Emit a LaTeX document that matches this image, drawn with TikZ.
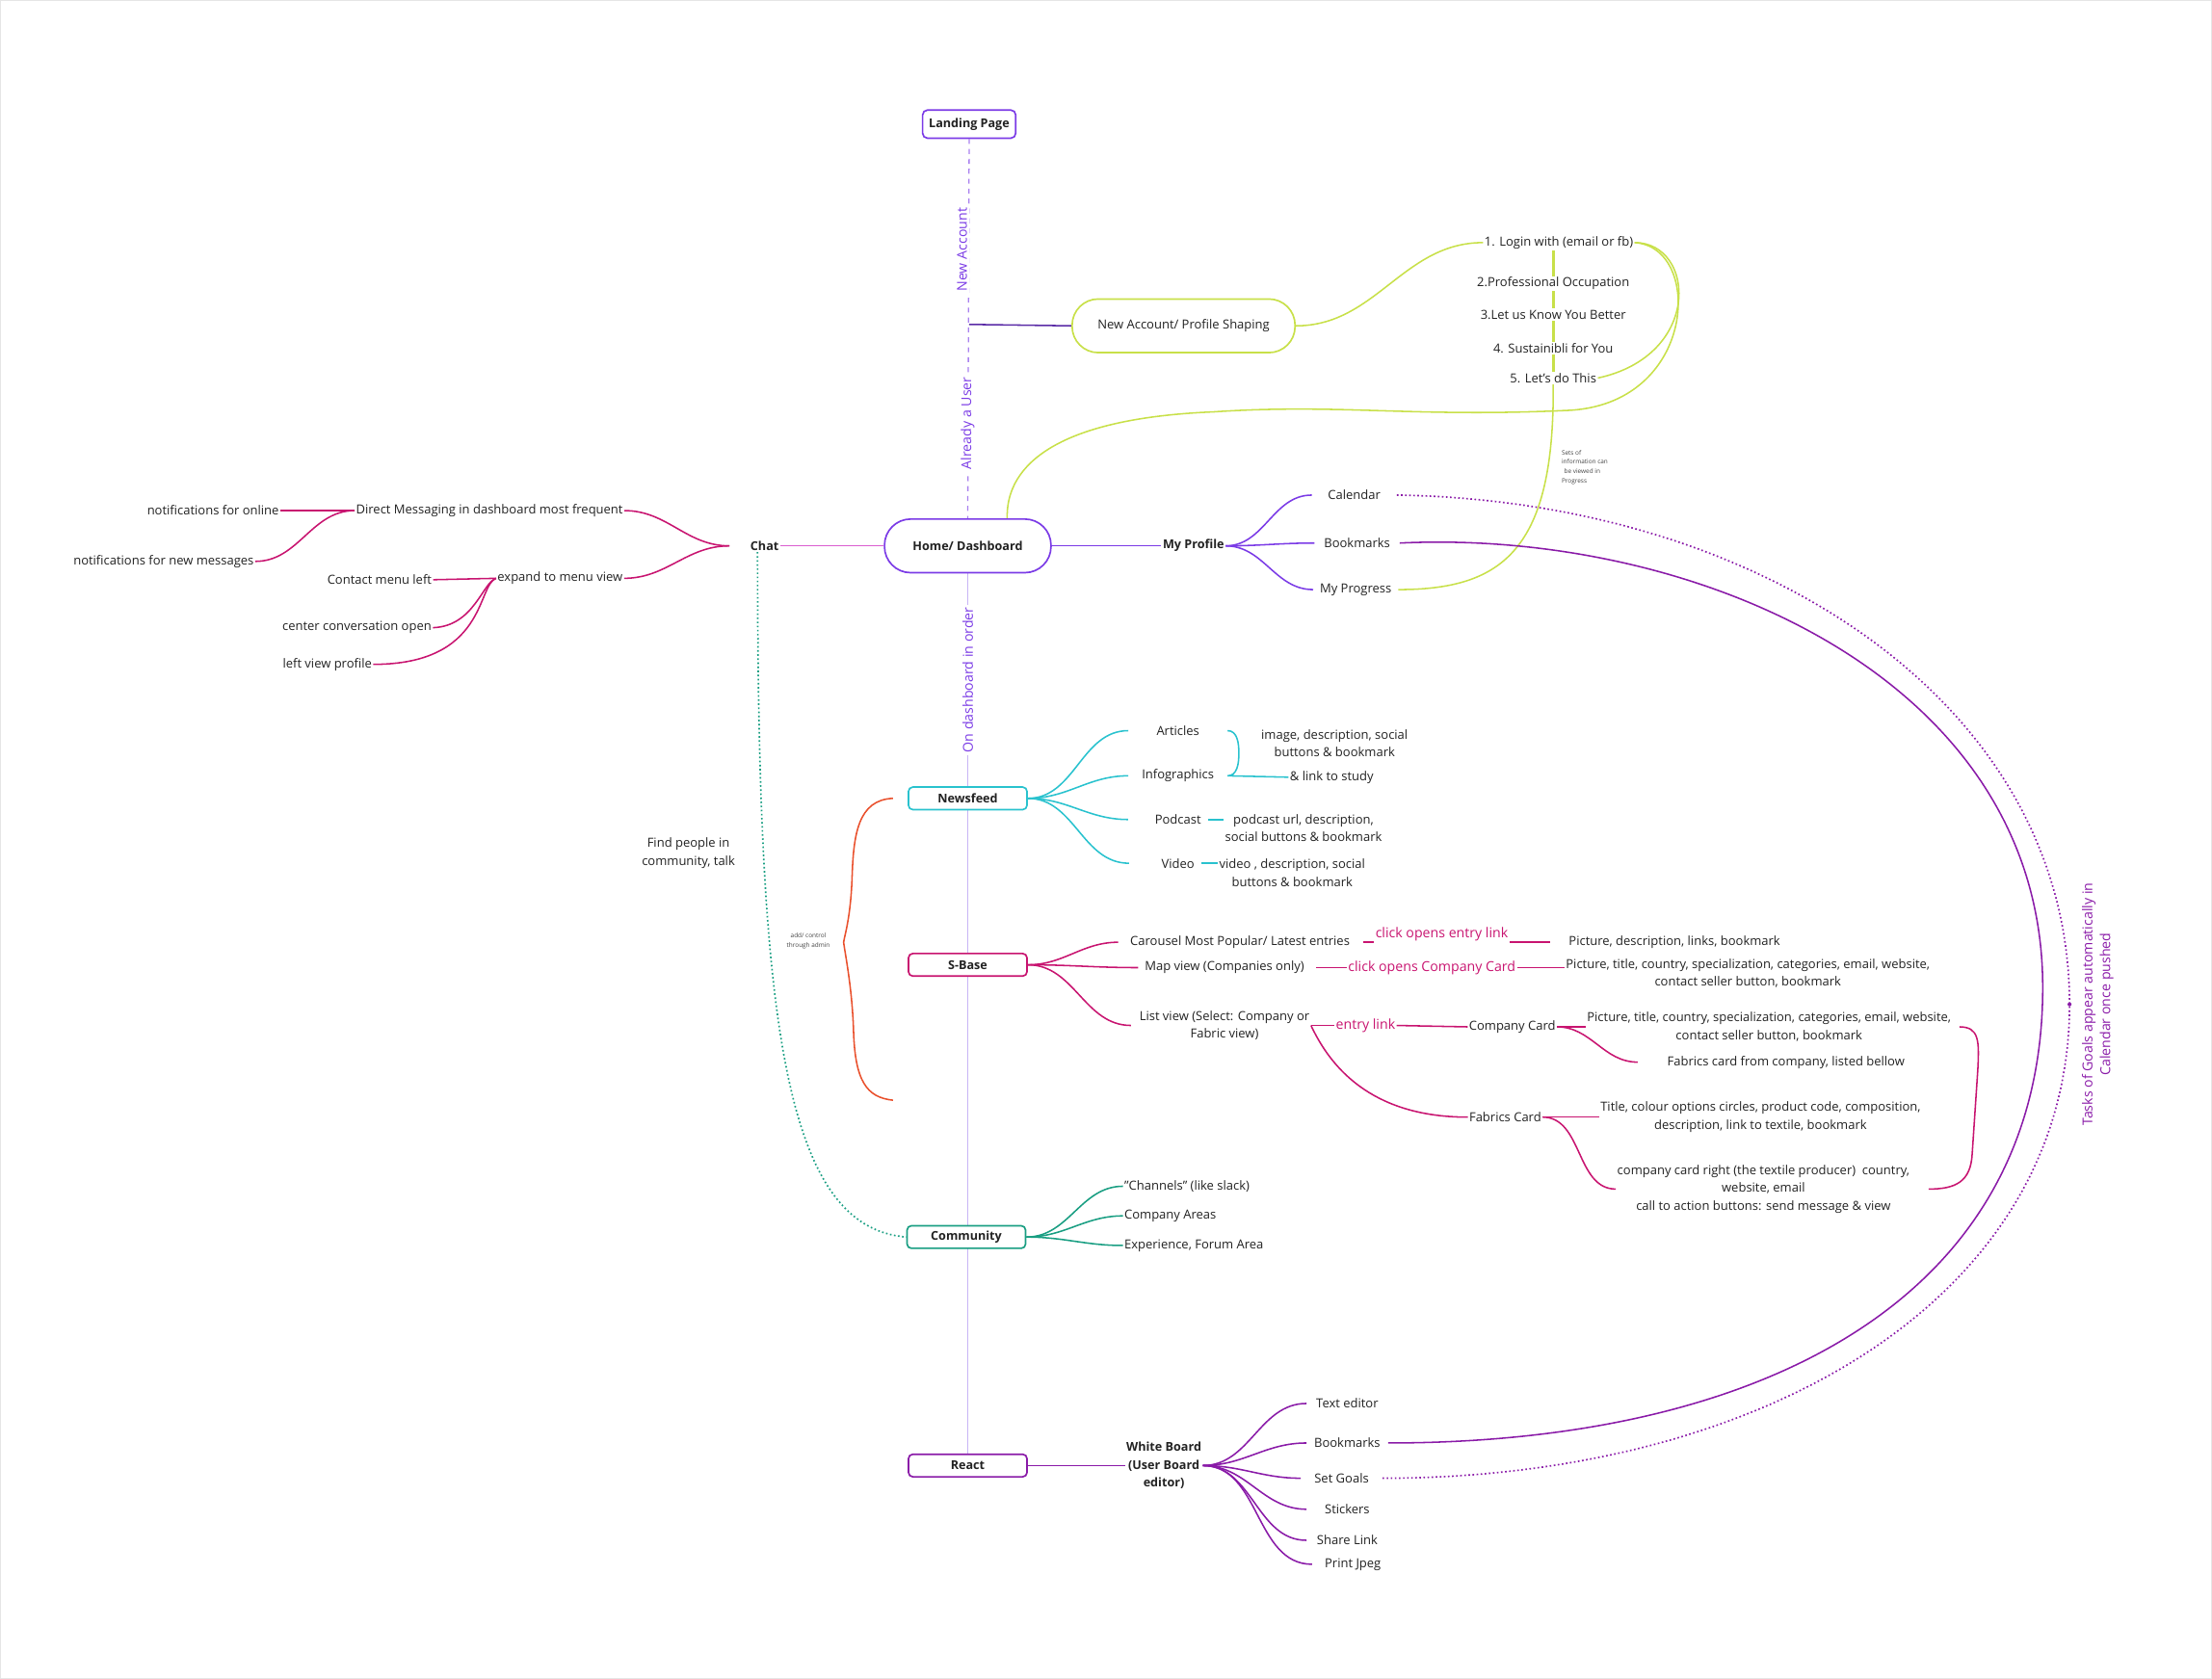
\documentclass[tikz,border=0pt]{standalone}
\usepackage{fontspec}
\setmainfont{Open Sans}
\usetikzlibrary{backgrounds}

\definecolor{inkA}{HTML}{222222}
\definecolor{violetA}{HTML}{7B3BE6}
\definecolor{violetD}{HTML}{5A2BA6}
\definecolor{limeA}{HTML}{C8E049}
\definecolor{cyanA}{HTML}{29C2CE}
\definecolor{magA}{HTML}{C81470}
\definecolor{tealA}{HTML}{199E82}
\definecolor{purpA}{HTML}{8A1BA8}
\definecolor{orangeA}{HTML}{E9502C}
\definecolor{lineV}{HTML}{C8B5F5}
\definecolor{pinkA}{HTML}{DB5FD0}

\tikzset{
  base/.style={font=\fontsize{10.1}{14.5}\selectfont, text=inkA, inner sep=1pt},
  hub/.style={draw, fill=white, line width=1.3pt, rounded corners=3.5pt, minimum width=3.36cm, minimum height=0.64cm, font=\fontsize{9.8}{14.5}\selectfont\bfseries},
  pill/.style={draw, fill=white, line width=1.3pt, rounded corners=0.74cm, minimum height=1.52cm},
  strong/.style={font=\fontsize{9.8}{14.5}\selectfont\bfseries},
  tag/.style={rotate=90, fill=white, text=violetA, font=\fontsize{11}{12}\selectfont, inner sep=2pt},
  hint/.style={text=magA, font=\fontsize{11}{13}\selectfont},
  note/.style={font=\fontsize{5}{7.5}\selectfont, align=left, text=inkA!85},
  lnk/.style={line width=1.2pt},
}

\begin{document}
\begin{tikzpicture}[x=0.04cm, y=-0.04cm, every node/.style=base]
\useasboundingbox (0,0) rectangle (1568,1190);
\draw[gray!20] (0.5,0.5) rectangle (1567.5,1189.5);

% main column
\node[hub, draw=violetA, minimum width=2.64cm, minimum height=0.8cm, rounded corners=4pt] (landing) at (687,88) {Landing Page};
\node[pill, draw=limeA, minimum width=6.32cm] (newacc) at (839,231) {New Account/ Profile Shaping};
\node[pill, draw=violetA, minimum width=4.72cm, strong] (home) at (686,387) {Home/ Dashboard};
\node[hub, draw=cyanA] (news) at (686,566) {Newsfeed};
\node[hub, draw=magA] (sbase) at (686,684) {S-Base};
\node[hub, draw=tealA] (comm) at (685,877) {Community};
\node[hub, draw=purpA] (react) at (686,1039) {React};
\node[tag] (tagnew) at (682,177) {New Account};
\node[tag] (taguser) at (686,300) {Already a User};
\node[tag] (tagorder) at (686,482) {On dashboard in order};
\coordinate (split) at (687,230);

% profile shaping steps
\node (login) at (1105,172) {1. Login with (email or fb)};
\node[fill=white] (st2) at (1101,201) {2.Professional Occupation};
\node[fill=white] (st3) at (1101,223) {3.Let us Know You Better};
\node[fill=white] (st4) at (1101,247) {4. Sustainibli for You};
\node[fill=white] (st5) at (1101,268) {5. Let's do This};

% my profile
\node[strong] (prof) at (846,387) {My Profile};
\node[minimum width=2.4cm] (cal) at (960,351) {Calendar};
\node[minimum width=2.4cm] (bm) at (962,385) {Bookmarks};
\node[minimum width=2.4cm] (prog) at (961,418) {My Progress};
\node[note, anchor=north west] (sets) at (1106,318) {Sets of\\information can\\\hspace{2pt}be viewed in\\Progress};
\node[rotate=90, align=center, text=purpA, font=\fontsize{11}{14.5}\selectfont] (tasks) at (1487,712) {Tasks of Goals appear automatically in\\Calendar once pushed};

% chat
\node[strong] (chat) at (542,387) {Chat};
\coordinate (chatj) at (517,387);
\node (dm) at (347,362) {Direct Messaging in dashboard most frequent};
\node (expand) at (397,410) {expand to menu view};
\node (notif1) at (151,362) {notifications for online};
\node (notif2) at (116,398) {notifications for new messages};
\node (contact) at (269,411) {Contact menu left};
\node (center) at (253,445) {center conversation open};
\node (lview) at (232,471) {left view profile};
\node[align=center] (find) at (488,605) {Find people in\\community, talk};

% newsfeed
\node[minimum width=2.8cm] (art) at (835,518) {Articles};
\node[minimum width=2.8cm] (info) at (835,550) {Infographics};
\node (pod) at (835,581) {Podcast};
\node (vid) at (835,612) {Video};
\node[align=center] (artinfo) at (946,527) {image, description, social\\buttons \& bookmark};
\node (study) at (944,551) {\& link to study};
\node[align=center] (podinfo) at (924,587) {podcast url, description,\\social buttons \& bookmark};
\node[align=center] (vidinfo) at (916,619) {video , description, social\\buttons \& bookmark};
\node[note, align=center] (admin) at (573,667) {add/ control\\through admin};

% s-base
\node (car) at (879,668) {Carousel Most Popular/ Latest entries};
\node (map) at (868,686) {Map view (Companies only)};
\node[align=center] (list) at (868,727) {List view (Select: Company or\\Fabric view)};
\node[hint] (clk1) at (1022,662) {click opens entry link};
\node[hint] (clk2) at (1015,686) {click opens Company Card};
\node[hint] (elink) at (968,727) {entry link};
\node (pic1) at (1187,668) {Picture, description, links, bookmark};
\node[align=center] (pic2) at (1239,690) {Picture, title, country, specialization, categories, email, website,\\contact seller button, bookmark};
\node (ccard) at (1072,728) {Company Card};
\node (fcard) at (1067,792) {Fabrics Card};
\node[align=center] (ccinfo) at (1254,728) {Picture, title, country, specialization, categories, email, website,\\contact seller button, bookmark};
\node (fcfrom) at (1266,753) {Fabrics card from company, listed bellow};
\node[align=center] (fcinfo) at (1248,792) {Title, colour options circles, product code, composition,\\description, link to textile, bookmark};
\node[align=center] (fcright) at (1250,843) {company card right (the textile producer)\ \ country,\\website, email\\call to action buttons: send message \& view};

% community
\node[anchor=west] (chan) at (796,841) {"Channels" (like slack)};
\node[anchor=west] (areas) at (796,862) {Company Areas};
\node[anchor=west] (forum) at (796,883) {Experience, Forum Area};

% react
\node[strong, align=center] (wb) at (825,1039) {White Board\\(User Board\\editor)};
\node[minimum width=2.3cm] (ted) at (955,995) {Text editor};
\node[minimum width=2.3cm] (bm2) at (955,1023) {Bookmarks};
\node[minimum width=2.3cm] (goals) at (951,1048) {Set Goals};
\node[minimum width=2.3cm] (stick) at (955,1070) {Stickers};
\node[minimum width=2.3cm] (share) at (955,1092) {Share Link};
\node[minimum width=2.3cm] (jpeg) at (959,1109) {Print Jpeg};

\begin{pgfonlayer}{background}
% top part
\draw[violetA!65, line width=1pt, dash pattern=on 4pt off 4pt] (landing.south) -- (home.north);
\draw[violetD, lnk] (split) -- (newacc.west);
\draw[limeA, lnk] (newacc.east) to[out=0,in=180] (login.west);
\draw[limeA, line width=2.6pt] (st5.north) -- (st5.north |- login.south);
\draw[limeA, lnk] (st5.south) .. controls (1102,390) and (1065,418) .. (prog.east);
\draw[limeA, lnk] (login.east) .. controls (1202,172) and (1207,252) .. (st5.east);
\draw[limeA, lnk] (login.east) .. controls (1208,175) and (1203,288) .. (1110,291)
  .. controls (1000,296) and (950,286) .. (860,292) .. controls (740,297) and (713,335) .. (home.35);

% profile
\draw[violetA, lnk] (home.east) -- (prof.west);
\draw[violetA, lnk] (prof.east) to[out=0,in=180] (cal.west);
\draw[violetA, lnk] (prof.east) to[out=0,in=180] (bm.west);
\draw[violetA, lnk] (prof.east) to[out=0,in=180] (prog.west);
\draw[purpA, dotted, line width=1.3pt] (cal.east) .. controls (1250,355) and (1467,500) .. (1467,712)
  .. controls (1467,920) and (1250,1048) .. (goals.east);
\fill[purpA] (1467,712) circle[radius=1.6pt];
\draw[purpA, lnk] (bm.east) .. controls (1200,375) and (1448,480) .. (1448,700)
  .. controls (1448,920) and (1250,1023) .. (bm2.east);

% chat
\draw[pinkA, lnk] (home.west) -- (chat.east);
\draw[magA, lnk] (chatj) to[out=180,in=0] (dm.east);
\draw[magA, lnk] (chatj) to[out=180,in=0] (expand.east);
\draw[magA, lnk] (dm.west) -- (notif1.east);
\draw[magA, lnk] (dm.west) to[out=180,in=0] (notif2.east);
\draw[magA, lnk] (expand.west) -- (contact.east);
\draw[magA, lnk] (expand.west) .. controls (342,413) and (336,444) .. (center.east);
\draw[magA, lnk] (expand.west) .. controls (338,415) and (345,471) .. (lview.east);
\draw[tealA, dotted, line width=1.3pt] ([xshift=-0.2cm]chat.south) .. controls (537,720) and (555,870) .. (comm.west);

% spine
\draw[lineV, line width=1pt] (home.south) -- (react.north);

% newsfeed
\draw[cyanA, lnk] (news.east) to[out=0,in=180] (art.west);
\draw[cyanA, lnk] (news.east) to[out=0,in=180] (info.west);
\draw[cyanA, lnk] (news.east) to[out=0,in=180] ([xshift=-0.72cm]pod.west);
\draw[cyanA, lnk] (news.east) to[out=0,in=180] ([xshift=-0.88cm]vid.west);
\draw[cyanA, lnk] (art.east) to[out=0,in=90] ++(8,16) to[out=-90,in=0] (info.east) -- (study.west);
\draw[cyanA, lnk] ([xshift=0.15cm]pod.east) -- (pod.east -| podinfo.west);
\draw[cyanA, lnk] ([xshift=0.15cm]vid.east) -- (vid.east -| vidinfo.west);
\draw[orangeA, lnk] (633,566) .. controls (608,567) and (605,592) .. (604,622)
  .. controls (603,650) and (599,662) .. (598,668) .. controls (599,676) and (604,700) .. (605,730)
  .. controls (606,766) and (614,778) .. (633,780);

% s-base
\draw[magA, lnk] (sbase.east) to[out=0,in=180] ([xshift=-0.3cm]car.west);
\draw[magA, lnk] (sbase.east) to[out=0,in=180] ([xshift=-0.15cm]map.west);
\draw[magA, lnk] (sbase.east) to[out=0,in=180] ([xshift=-0.2cm]list.west);
\draw[magA, lnk] ([xshift=0.35cm]car.east) -- (car.east -| clk1.west);
\draw[magA, lnk] (clk1.east |- pic1.west) -- ([xshift=-0.5cm]pic1.west);
\draw[magA, lnk] ([xshift=0.3cm]map.east) -- (clk2.west);
\draw[magA, lnk] (clk2.east) -- (clk2.east -| pic2.west);
\draw[magA, lnk] (list.east) -- (elink.west);
\draw[magA, lnk] (elink.east) -- (ccard.west);
\draw[magA, lnk] (list.east) to[out=-65,in=180] (fcard.west);
\draw[magA, lnk] (ccard.east) -- (ccinfo.west);
\draw[magA, lnk] (ccard.east) to[out=0,in=180] ([xshift=-0.8cm]fcfrom.west);
\draw[magA, lnk] (fcard.east) -- (fcinfo.west);
\draw[magA, lnk] (fcard.east) to[out=0,in=180] (fcright.west);
\draw[magA, lnk] ([xshift=0.2cm]ccinfo.east) .. controls (1403,728) and (1403,738) .. (1402,758) -- (1398,818)
  .. controls (1397,838) and (1386,843) .. ([xshift=0.5cm]fcright.east);

% community
\draw[tealA, lnk] (comm.east) to[out=0,in=180] (chan.west);
\draw[tealA, lnk] (comm.east) to[out=0,in=180] (areas.west);
\draw[tealA, lnk] (comm.east) to[out=0,in=180] (forum.west);

% react
\draw[purpA, lnk] (react.east) -- (wb.west);
\draw[purpA, lnk] (wb.east) to[out=0,in=180] (ted.west);
\draw[purpA, lnk] (wb.east) to[out=0,in=180] (bm2.west);
\draw[purpA, lnk] (wb.east) to[out=0,in=180] (goals.west);
\draw[purpA, lnk] (wb.east) to[out=0,in=180] (stick.west);
\draw[purpA, lnk] (wb.east) to[out=0,in=180] (share.west);
\draw[purpA, lnk] (wb.east) to[out=0,in=180] (jpeg.west);
\end{pgfonlayer}
\end{tikzpicture}
\end{document}
